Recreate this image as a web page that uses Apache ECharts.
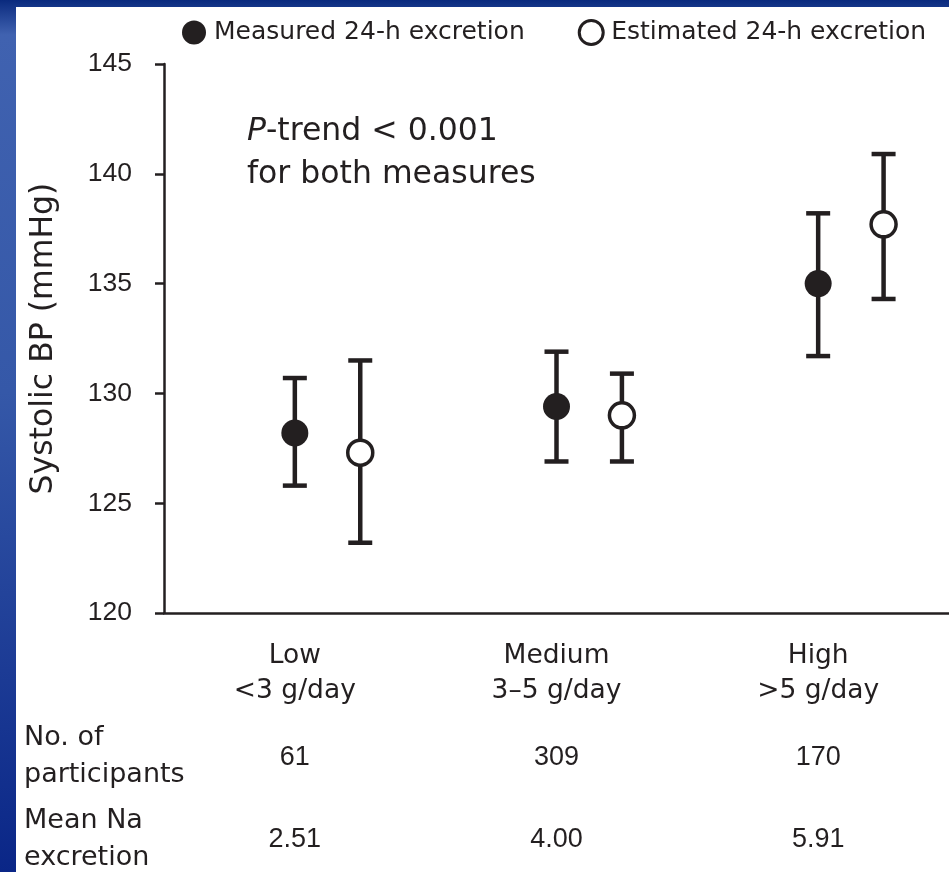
<!DOCTYPE html>
<html>
<head>
<meta charset="utf-8">
<script src="https://cdn.jsdelivr.net/npm/echarts@6/dist/echarts.min.js"></script>
<style>
html,body{margin:0;padding:0;background:#fff;}
#chart{width:949px;height:872px;}
</style>
</head>
<body>
<div id="chart"></div>
<script>
// ---- data ----
const categories = ['Low\n<3 g/day', 'Medium\n3–5 g/day', 'High\n>5 g/day'];
const seriesNames = ['Measured 24-h excretion', 'Estimated 24-h excretion'];
const measuredMean = [128.2, 129.4, 135.0];
const measuredLow  = [125.8, 126.9, 131.7];
const measuredHigh = [130.7, 131.9, 138.2];
const estimatedMean = [127.3, 129.0, 137.7];
const estimatedLow  = [123.2, 126.9, 134.3];
const estimatedHigh = [131.5, 130.9, 140.9];
const yTicks = [120, 125, 130, 135, 140, 145];
const participants = ['61', '309', '170'];
const meanNa = ['2.51', '4.00', '5.91'];
const rowLabels = ['No. of\nparticipants', 'Mean Na\nexcretion'];
const annotation = ['P', '-trend < 0.001', 'for both measures'];
const yName = 'Systolic BP (mmHg)';

// ---- layout constants ----
const WORD_FONT = 'DejaVu Sans, Verdana, sans-serif';
const NUM_FONT = 'Liberation Sans, Arial, sans-serif';
const INK = '#231f20';
const EST_SHIFT = 0.25; // horizontal shift of estimated marker within a category

const chart = echarts.init(document.getElementById('chart'));

function pts(means, shift) {
  return means.map((v, i) => [i + 0.5 + shift, v]);
}
function bars(lo, hi, shift) {
  return lo.map((v, i) => [i + 0.5 + shift, v, hi[i]]);
}
function renderErr(params, api) {
  const x = api.value(0);
  const p1 = api.coord([x, api.value(1)]);
  const p2 = api.coord([x, api.value(2)]);
  const hw = 12;
  const st = { stroke: INK, lineWidth: 4.5 };
  return {
    type: 'group',
    children: [
      { type: 'line', shape: { x1: p1[0], y1: p1[1], x2: p2[0], y2: p2[1] }, style: st },
      { type: 'line', shape: { x1: p1[0] - hw, y1: p1[1], x2: p1[0] + hw, y2: p1[1] }, style: st },
      { type: 'line', shape: { x1: p2[0] - hw, y1: p2[1], x2: p2[0] + hw, y2: p2[1] }, style: st }
    ]
  };
}

const tableAxis = (labels, offset) => ({
  type: 'category', data: labels, position: 'bottom', offset: offset, gridIndex: 0,
  axisLine: { show: false }, axisTick: { show: false },
  axisLabel: { color: INK, fontFamily: NUM_FONT, fontSize: 27, margin: 0, lineHeight: 30 }
});

const option = {
  backgroundColor: {
    type: 'linear', x: 0, y: 0, x2: 0, y2: 1,
    colorStops: [
      { offset: 0, color: '#0a2a7e' },
      { offset: 0.04, color: '#4062b0' },
      { offset: 0.45, color: '#3558a8' },
      { offset: 1, color: '#0a2687' }
    ]
  },
  animation: false,
  graphic: [
    { type: 'rect', left: 16, top: 7, shape: { width: 949 - 16, height: 872 - 7 }, style: { fill: '#fff' }, z: -10 },
    {
      type: 'text', left: 247, top: 110, z: 10,
      style: {
        text: '{i|' + annotation[0] + '}' + annotation[1] + '\n' + annotation[2],
        fill: INK, font: '31.5px ' + WORD_FONT, lineHeight: 43,
        rich: { i: { fontStyle: 'italic', fontSize: 31.5, fontFamily: WORD_FONT, fill: INK, lineHeight: 43 } }
      }
    },
    {
      type: 'text', left: 24, top: 719, z: 10,
      style: { text: rowLabels[0], fill: INK, font: '27px ' + WORD_FONT, lineHeight: 37 }
    },
    {
      type: 'text', left: 24, top: 802, z: 10,
      style: { text: rowLabels[1], fill: INK, font: '27px ' + WORD_FONT, lineHeight: 37 }
    }
  ],
  legend: {
    left: 177, top: 14, itemGap: 53, itemWidth: 24, itemHeight: 24,
    textStyle: { color: INK, fontFamily: WORD_FONT, fontSize: 25, padding: [0, 0, 0, 3] },
    data: [
      { name: seriesNames[0], icon: 'circle', itemStyle: { color: INK, borderWidth: 0 } },
      { name: seriesNames[1], icon: 'circle', itemStyle: { color: '#fff', borderColor: INK, borderWidth: 3 } }
    ]
  },
  grid: { left: 164, right: 0, top: 64, bottom: 259, containLabel: false },
  xAxis: [
    {
      type: 'category', data: categories, position: 'bottom',
      axisLine: { lineStyle: { color: INK, width: 2.5 } },
      axisTick: { alignWithLabel: true, length: 9, lineStyle: { color: INK, width: 2.5 } },
      axisLabel: { color: INK, fontFamily: WORD_FONT, fontSize: 26.5, lineHeight: 35, margin: 26 },
      splitLine: { show: false }
    },
    { type: 'value', min: 0, max: 3, show: false },
    tableAxis(participants, 130),
    tableAxis(meanNa, 212)
  ],
  yAxis: {
    type: 'value', min: yTicks[0], max: yTicks[yTicks.length - 1], interval: 5,
    name: yName, nameLocation: 'middle', nameRotate: 90, nameGap: 104,
    nameTextStyle: { color: INK, fontFamily: WORD_FONT, fontSize: 31.5 },
    axisLine: { show: true, lineStyle: { color: INK, width: 2.5 } },
    axisTick: { show: true, length: 9, lineStyle: { color: INK, width: 2.5 } },
    axisLabel: { color: INK, fontFamily: NUM_FONT, fontSize: 26.5, margin: 32 },
    splitLine: { show: false }
  },
  series: [
    {
      type: 'custom', xAxisIndex: 1, renderItem: renderErr, z: 2,
      data: bars(measuredLow, measuredHigh, 0), encode: { x: 0, y: [1, 2] }
    },
    {
      type: 'custom', xAxisIndex: 1, renderItem: renderErr, z: 2,
      data: bars(estimatedLow, estimatedHigh, EST_SHIFT), encode: { x: 0, y: [1, 2] }
    },
    {
      name: seriesNames[0], type: 'scatter', xAxisIndex: 1, symbol: 'circle', symbolSize: 27, z: 5,
      itemStyle: { color: INK, opacity: 1 }, data: pts(measuredMean, 0)
    },
    {
      name: seriesNames[1], type: 'scatter', xAxisIndex: 1, symbol: 'circle', symbolSize: 25, z: 5,
      itemStyle: { color: '#fff', borderColor: INK, borderWidth: 3.5, opacity: 1 }, data: pts(estimatedMean, EST_SHIFT)
    }
  ]
};
chart.setOption(option);
</script>
</body>
</html>
